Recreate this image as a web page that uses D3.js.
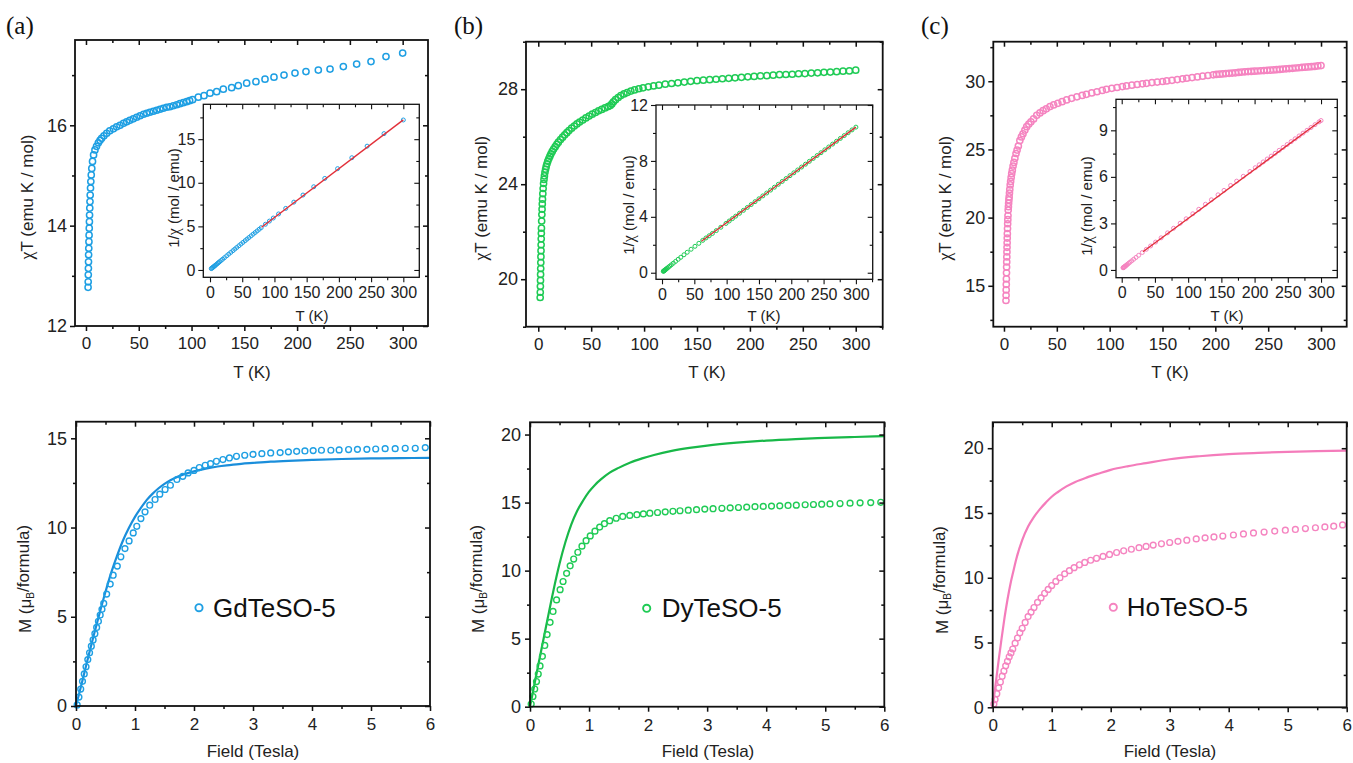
<!DOCTYPE html>
<html>
<head>
<meta charset="utf-8">
<script src="https://cdn.jsdelivr.net/npm/d3@7"></script>
<style>
  html, body { margin: 0; padding: 0; background: #fff; }
  svg { display: block; font-family: "Liberation Sans", Arial, sans-serif; }
</style>
</head>
<body>
<svg id="fig" width="1353" height="763"></svg>
<script>
// ---------- chi*T vs T (emu K / mol) ----------
const chiT_Gd = [[2.0,12.77],[2.1,12.88],[2.2,13.02],[2.3,13.15],[2.4,13.28],[2.5,13.42],[2.65,13.55],[2.8,13.68],[2.95,13.81],[3.1,13.95],[3.25,14.08],[3.4,14.21],[3.6,14.35],[3.8,14.48],[4.0,14.61],[4.3,14.75],[4.6,14.88],[5.0,15.01],[5.5,15.14],[6.2,15.28],[7.2,15.41],[8.5,15.51],[10,15.58],[11.7,15.65],[13.3,15.70],[14.8,15.74],[17,15.79],[19.6,15.84],[22.5,15.89],[25.9,15.93],[29,15.97],[32.2,16.0],[35.5,16.04],[38.5,16.07],[41.5,16.1],[44.8,16.13],[48,16.16],[51.2,16.19],[54.5,16.22],[57.5,16.24],[60.5,16.26],[63.8,16.28],[67,16.3],[70.1,16.32],[73.2,16.34],[76.4,16.36],[79.5,16.37],[82.7,16.39],[86,16.41],[89,16.43],[92.2,16.45],[95.4,16.47],[98.2,16.49],[101,16.51],[106.4,16.56],[111.8,16.59],[117.5,16.64],[123.8,16.67],[130.1,16.72],[138,16.75],[144.3,16.79],[152.2,16.84],[161,16.87],[169.6,16.92],[178.1,16.96],[187.6,17.0],[198,17.04],[208.4,17.07],[220.1,17.1],[231.2,17.12],[243.8,17.17],[256.4,17.22],[270,17.27],[284.2,17.37],[300,17.44]];

const chiT_Dy = [[1.8,19.23],[1.9,19.45],[2.0,19.7],[2.1,19.95],[2.2,20.2],[2.3,20.45],[2.4,20.7],[2.5,20.95],[2.6,21.2],[2.7,21.45],[2.8,21.7],[2.9,21.93],[3.0,22.15],[3.2,22.45],[3.4,22.72],[3.6,22.95],[3.8,23.17],[4.0,23.37],[4.3,23.6],[4.6,23.82],[5.0,24.03],[5.4,24.2],[5.8,24.35],[6.3,24.5],[6.9,24.63],[7.5,24.75],[8.2,24.86],[9.0,24.97],[10,25.08],[11,25.18],[12,25.28],[13.2,25.38],[14.5,25.48],[16,25.58],[17.5,25.68],[19,25.77],[21,25.88],[23,25.98],[25,26.08],[27,26.17],[29,26.26],[31.5,26.36],[34,26.45],[36.5,26.54],[39,26.62],[42,26.7],[45,26.79],[48,26.87],[51,26.95],[54,27.02],[57,27.09],[60,27.15],[63,27.21],[66,27.27],[68,27.31],[69.5,27.38],[71,27.47],[73,27.56],[75.5,27.65],[78,27.73],[81,27.8],[84,27.86],[87.5,27.92],[91,27.97],[95,28.02],[99,28.06],[104,28.1],[109,28.14],[114,28.17],[120,28.21],[126,28.24],[132,28.27],[138,28.3],[144,28.33],[150,28.36],[156,28.38],[162,28.4],[168,28.42],[174,28.44],[180,28.46],[186,28.48],[192,28.5],[198,28.52],[204,28.54],[210,28.56],[216,28.57],[222,28.59],[228,28.61],[234,28.62],[240,28.63],[246,28.65],[252,28.66],[258,28.68],[264,28.69],[270,28.71],[276,28.72],[282,28.74],[288,28.76],[294,28.77],[300,28.8]];

const chiT_Ho = [[1.9,13.92],[2.0,14.3],[2.1,14.7],[2.2,15.1],[2.3,15.5],[2.4,15.95],[2.5,16.37],[2.6,16.75],[2.7,17.12],[2.8,17.48],[2.9,17.82],[3.0,18.15],[3.1,18.5],[3.2,18.82],[3.35,19.2],[3.5,19.55],[3.65,19.85],[3.8,20.15],[4.0,20.55],[4.2,20.8],[4.4,21.05],[4.65,21.3],[4.9,21.52],[5.2,21.8],[5.5,22.07],[5.9,22.4],[6.3,22.65],[6.8,22.95],[7.3,23.22],[7.9,23.48],[8.6,23.78],[9.4,24.05],[10.3,24.35],[11.4,24.7],[12.4,24.95],[13.6,25.25],[15,25.65],[16.5,25.92],[18,26.15],[19.8,26.42],[21.5,26.67],[23.5,26.86],[25.5,27.03],[28,27.24],[31,27.5],[34,27.68],[37,27.84],[40,27.98],[43.5,28.14],[47,28.26],[51,28.38],[55,28.5],[59.3,28.63],[64,28.75],[69,28.86],[74,28.96],[78,29.04],[83,29.14],[88,29.23],[93,29.33],[97,29.41],[102,29.48],[107,29.54],[112,29.61],[116,29.66],[121,29.71],[126,29.76],[131,29.81],[135,29.85],[140,29.9],[145,29.94],[150,29.98],[154,30.02],[159,30.07],[164,30.12],[169,30.18],[173,30.22],[178,30.27],[183,30.32],[188,30.37],[193,30.42],[198,30.47],[201,30.5],[204,30.52],[207,30.54],[210,30.56],[213,30.58],[216,30.6],[219,30.62],[222,30.65],[225,30.67],[228,30.69],[231,30.71],[234,30.72],[237,30.74],[240,30.75],[243,30.77],[246,30.78],[249,30.8],[252,30.81],[255,30.83],[258,30.85],[261,30.87],[264,30.89],[267,30.91],[270,30.93],[273,30.95],[276,30.97],[279,30.99],[282,31.01],[285,31.03],[288,31.05],[291,31.07],[294,31.09],[297,31.12],[300,31.15]];

// ---------- 1/chi vs T (mol / emu) and Curie-Weiss fit segments ----------
const invChi_Gd = [[2,0.157],[3,0.217],[4,0.274],[5,0.333],[6.2,0.406],[7.2,0.467],[8.5,0.548],[10,0.642],[11.7,0.748],[13.3,0.847],[14.8,0.94],[17,1.077],[19.6,1.237],[22.5,1.416],[25.9,1.626],[29,1.816],[32.2,2.013],[35.5,2.213],[38.5,2.396],[41.5,2.578],[44.8,2.777],[48,2.97],[51.2,3.162],[54.5,3.36],[57.5,3.541],[60.5,3.721],[63.8,3.919],[67,4.11],[70.1,4.295],[73.2,4.48],[76.4,4.67],[79.5,4.856],[86,5.241],[92.2,5.605],[98.2,5.955],[106.4,6.425],[117.5,7.061],[130.1,7.781],[144.3,8.594],[161,9.544],[178.1,10.501],[198,11.62],[220.1,12.871],[243.8,14.199],[270,15.634],[300,17.202]];
const cwFit_Gd = [[80,4.9],[300,17.22]];

const invChi_Dy = [[2.0,0.102],[2.5,0.119],[3.0,0.135],[3.6,0.157],[4.3,0.182],[5.0,0.208],[5.8,0.238],[6.9,0.28],[8.2,0.33],[10,0.399],[12,0.475],[14.5,0.569],[17.5,0.681],[21,0.811],[25,0.959],[29,1.104],[34,1.285],[39,1.465],[45,1.68],[51,1.892],[57,2.104],[63,2.315],[68,2.488],[73,2.645],[78,2.811],[84,3.014],[91,3.253],[99,3.528],[104,3.701],[109,3.873],[114,4.047],[120,4.254],[126,4.462],[132,4.669],[138,4.876],[144,5.083],[150,5.289],[156,5.497],[162,5.704],[168,5.911],[174,6.118],[180,6.325],[186,6.531],[192,6.737],[198,6.943],[204,7.148],[210,7.353],[216,7.56],[222,7.765],[228,7.969],[234,8.176],[240,8.383],[246,8.586],[252,8.793],[258,8.996],[264,9.202],[270,9.404],[276,9.61],[282,9.812],[288,10.014],[294,10.219],[300,10.417]];
const cwFit_Dy = [[61,2.25],[300,10.42]];

const invChi_Ho = [[2.0,0.14],[2.5,0.153],[3.0,0.165],[3.5,0.179],[4.0,0.195],[4.65,0.218],[5.5,0.249],[6.3,0.278],[7.3,0.314],[8.6,0.362],[10.3,0.423],[12.4,0.497],[15,0.585],[18,0.688],[21.5,0.806],[25.5,0.943],[31,1.127],[37,1.329],[43.5,1.546],[51,1.797],[59.3,2.071],[69,2.391],[78,2.686],[88,3.011],[97,3.298],[107,3.622],[116,3.911],[126,4.234],[135,4.523],[145,4.843],[154,5.13],[164,5.445],[173,5.725],[183,6.036],[193,6.345],[201,6.59],[207,6.778],[213,6.965],[219,7.152],[225,7.336],[231,7.522],[237,7.71],[243,7.897],[249,8.084],[255,8.271],[261,8.455],[267,8.638],[273,8.821],[279,9.003],[285,9.185],[291,9.366],[297,9.544],[300,9.631]];
const cwFit_Ho = [[32,1.17],[300,9.63]];

// ---------- M vs H (muB / formula) with calculated curves ----------
const mag_Gd = [[0.02,0.06],[0.05,0.5],[0.08,0.95],[0.11,1.38],[0.14,1.8],[0.17,2.2],[0.2,2.6],[0.23,2.98],[0.26,3.35],[0.29,3.7],[0.32,4.05],[0.35,4.4],[0.38,4.75],[0.41,5.1],[0.44,5.42],[0.47,5.75],[0.52,6.27],[0.58,6.83],[0.63,7.33],[0.7,7.84],[0.76,8.36],[0.83,8.82],[0.9,9.25],[0.97,9.7],[1.03,10.07],[1.1,10.5],[1.17,10.88],[1.25,11.25],[1.34,11.57],[1.42,11.87],[1.51,12.13],[1.6,12.37],[1.71,12.69],[1.81,12.87],[1.9,13.06],[2.0,13.2],[2.09,13.36],[2.19,13.49],[2.28,13.58],[2.38,13.71],[2.49,13.81],[2.6,13.9],[2.72,13.99],[2.86,14.05],[3.0,14.1],[3.15,14.14],[3.3,14.18],[3.46,14.2],[3.6,14.24],[3.74,14.27],[3.88,14.29],[4.02,14.31],[4.16,14.33],[4.32,14.33],[4.46,14.35],[4.62,14.37],[4.77,14.38],[4.93,14.38],[5.08,14.4],[5.24,14.42],[5.41,14.42],[5.58,14.44],[5.75,14.44],[5.92,14.48]];
const calc_Gd = [[0,0],[0.1,1.3],[0.2,2.65],[0.3,3.95],[0.4,5.2],[0.5,6.4],[0.6,7.5],[0.7,8.45],[0.8,9.3],[0.9,10.0],[1.0,10.6],[1.1,11.1],[1.2,11.55],[1.3,11.9],[1.4,12.2],[1.5,12.45],[1.6,12.65],[1.8,12.95],[2.0,13.15],[2.2,13.3],[2.4,13.42],[2.6,13.5],[2.8,13.57],[3.0,13.62],[3.3,13.69],[3.6,13.74],[4.0,13.79],[4.5,13.84],[5.0,13.87],[5.5,13.89],[6.0,13.9]];

const mag_Dy = [[0.02,0.2],[0.05,0.75],[0.08,1.3],[0.11,1.85],[0.14,2.4],[0.17,3.0],[0.21,3.7],[0.25,4.5],[0.29,5.3],[0.34,6.2],[0.39,7.0],[0.45,7.85],[0.51,8.6],[0.56,9.2],[0.62,9.8],[0.68,10.35],[0.74,10.85],[0.81,11.35],[0.88,11.8],[0.95,12.2],[1.02,12.55],[1.1,12.9],[1.18,13.2],[1.26,13.45],[1.35,13.67],[1.46,13.85],[1.57,13.98],[1.69,14.06],[1.81,14.11],[1.92,14.17],[2.03,14.22],[2.16,14.27],[2.29,14.32],[2.42,14.36],[2.54,14.4],[2.68,14.44],[2.82,14.48],[2.96,14.52],[3.1,14.55],[3.25,14.58],[3.39,14.61],[3.53,14.64],[3.67,14.67],[3.81,14.7],[3.95,14.72],[4.09,14.74],[4.23,14.76],[4.37,14.79],[4.51,14.81],[4.66,14.84],[4.8,14.86],[4.94,14.88],[5.08,14.9],[5.25,14.93],[5.42,14.96],[5.59,14.98],[5.77,15.0],[5.94,15.02]];
const calc_Dy = [[0,0],[0.1,2.2],[0.2,4.35],[0.3,6.5],[0.4,8.6],[0.5,10.5],[0.6,12.1],[0.7,13.4],[0.8,14.4],[0.9,15.15],[1.0,15.8],[1.1,16.3],[1.2,16.7],[1.35,17.2],[1.5,17.55],[1.7,17.95],[1.9,18.25],[2.1,18.5],[2.4,18.8],[2.7,19.02],[3.0,19.19],[3.5,19.4],[4.0,19.56],[4.5,19.67],[5.0,19.75],[5.5,19.82],[6.0,19.88]];

const mag_Ho = [[0.02,0.25],[0.04,0.6],[0.07,1.05],[0.1,1.5],[0.13,1.95],[0.16,2.4],[0.19,2.8],[0.22,3.2],[0.25,3.55],[0.28,3.9],[0.31,4.2],[0.34,4.5],[0.38,4.95],[0.42,5.35],[0.46,5.75],[0.5,6.1],[0.55,6.55],[0.6,7.0],[0.65,7.35],[0.7,7.7],[0.76,8.1],[0.82,8.45],[0.88,8.8],[0.94,9.1],[1.0,9.4],[1.07,9.72],[1.14,10.0],[1.22,10.3],[1.3,10.55],[1.38,10.78],[1.47,11.0],[1.56,11.18],[1.66,11.35],[1.76,11.5],[1.87,11.65],[1.98,11.8],[2.1,11.95],[2.22,12.08],[2.35,12.2],[2.48,12.32],[2.6,12.42],[2.72,12.52],[2.86,12.62],[3.0,12.72],[3.14,12.81],[3.29,12.9],[3.45,13.0],[3.6,13.08],[3.75,13.15],[3.9,13.22],[4.08,13.3],[4.25,13.38],[4.42,13.46],[4.6,13.53],[4.78,13.6],[4.96,13.67],[5.13,13.73],[5.3,13.8],[5.47,13.86],[5.63,13.92],[5.78,13.98],[5.93,14.08]];
const calc_Ho = [[0,0],[0.05,1.8],[0.1,3.6],[0.15,5.3],[0.2,6.9],[0.25,8.3],[0.3,9.5],[0.35,10.5],[0.4,11.45],[0.5,12.9],[0.6,13.95],[0.7,14.7],[0.8,15.3],[0.9,15.8],[1.0,16.25],[1.1,16.6],[1.25,17.05],[1.4,17.4],[1.6,17.75],[1.8,18.05],[2.0,18.33],[2.3,18.62],[2.6,18.85],[3.0,19.15],[3.5,19.38],[4.0,19.54],[4.5,19.64],[5.0,19.72],[5.5,19.78],[6.0,19.82]];

// ---------- tick values ----------
const tTicksMajor = [0, 50, 100, 150, 200, 250, 300];
const tTicksMinor = [25, 75, 125, 175, 225, 275, 325];
const hTicksMajor = [0, 1, 2, 3, 4, 5, 6];
const hTicksMinor = [0.5, 1.5, 2.5, 3.5, 4.5, 5.5];

const compoundNames = ["GdTeSO-5", "DyTeSO-5", "HoTeSO-5"];
const panelTags = ["(a)", "(b)", "(c)"];

const blue = "#1e9fe3", green = "#1fcb55", pink = "#f584c0", red = "#e2303a";
const blueLine = "#1a8edb", greenLine = "#18b848", pinkLine = "#f47cbb";

const svg = d3.select("#fig");
const FONT = '"Liberation Sans", Arial, sans-serif';

// A framed plot: ticks on all four sides, labels on bottom and left.
function makePanel(o) {
  const root = svg.append("g");
  const [x0, y0, x1, y1] = o.box;
  const x = d3.scaleLinear().domain(o.xDom).range([x0, x1]);
  const y = d3.scaleLinear().domain(o.yDom).range([y1, y0]);
  if (o.fill) {
    root.append("rect").attr("x", x0).attr("y", y0)
      .attr("width", x1 - x0).attr("height", y1 - y0).attr("fill", "#fff");
  }
  const data = root.append("g");
  const axes = root.append("g");
  const lw = o.lw;

  function add(axisFn, scale, vals, size, pad, tr, fmt, fs) {
    const [lo, hi] = d3.extent(scale.domain());
    const a = axisFn(scale).tickValues(vals.filter(v => v >= lo && v <= hi))
      .tickSize(size).tickSizeOuter(0).tickPadding(pad)
      .tickFormat(fmt ? fmt : () => "");
    const gg = axes.append("g").attr("transform", tr).call(a);
    gg.select(".domain").remove();
    gg.attr("font-size", null).attr("font-family", null);
    gg.selectAll("line").attr("stroke", "#111").attr("stroke-width", lw * 0.85);
    gg.selectAll("text").attr("font-size", fs).attr("fill", "#222").attr("font-family", FONT);
  }
  const fmt = d3.format("d");
  add(d3.axisBottom, x, o.xMajor, 5, o.padX, `translate(0,${y1})`, fmt, o.fsX);
  add(d3.axisBottom, x, o.xMinor, 3, 0, `translate(0,${y1})`, null);
  add(d3.axisTop, x, o.xMajor, -5, 0, `translate(0,${y0})`, null);
  add(d3.axisTop, x, o.xMinor, -3, 0, `translate(0,${y0})`, null);
  add(d3.axisLeft, y, o.yMajor, 5, o.padY, `translate(${x0},0)`, fmt, o.fsY);
  add(d3.axisLeft, y, o.yMinor, 3, 0, `translate(${x0},0)`, null);
  add(d3.axisRight, y, o.yMajor, -5, 0, `translate(${x1},0)`, null);
  add(d3.axisRight, y, o.yMinor, -3, 0, `translate(${x1},0)`, null);
  axes.append("rect").attr("x", x0).attr("y", y0)
    .attr("width", x1 - x0).attr("height", y1 - y0)
    .attr("fill", "none").attr("stroke", "#111").attr("stroke-width", lw);
  return { x, y, data, axes };
}

function circles(p, pts, color, r, sw) {
  p.data.selectAll(null).data(pts).enter().append("circle")
    .attr("cx", d => p.x(d[0])).attr("cy", d => p.y(d[1]))
    .attr("r", r).attr("fill", "none").attr("stroke", color).attr("stroke-width", sw);
}
function curve(p, pts, color, w) {
  const line = d3.line().x(d => p.x(d[0])).y(d => p.y(d[1])).curve(d3.curveMonotoneX);
  p.data.append("path").attr("d", line(pts)).attr("fill", "none")
    .attr("stroke", color).attr("stroke-width", w).attr("stroke-linejoin", "round");
}
function label(x, y, str, size, rot) {
  const t = svg.append("text").attr("x", x).attr("y", y)
    .attr("font-size", size).attr("font-family", FONT).attr("fill", "#222")
    .attr("text-anchor", "middle");
  if (rot) t.attr("transform", `rotate(-90,${x},${y})`);
  if (str) t.text(str);
  return t;
}
function chiLabel(x, y, size, before, after) {
  const t = label(x, y, "", size, true).attr("dy", "0.35em");
  if (before) t.append("tspan").text(before);
  t.append("tspan").attr("font-family", '"Liberation Serif", serif').attr("font-size", size * 1.05).text("\u03c7");
  t.append("tspan").text(after);
}

// ---------- layout for the three columns ----------
const cols = [
  {
    tag: [6, 34],
    main: { box: [75, 40, 428, 326], yDom: [12, 17.7], xDom: [-10.4, 324], yMajor: [12, 14, 16], yMinor: [13, 15, 17] },
    mainData: chiT_Gd, yTitleX: 27, xTitleX: 252,
    inset: { box: [203.3, 104.3, 419.3, 277.3], yDom: [-0.84, 19], xDom: [-10.4, 324.8], yMajor: [0, 5, 10, 15], yMinor: [2.5, 7.5, 12.5, 17.5] },
    insetData: invChi_Gd, fit: cwFit_Gd, insetYTitle: [174, 198], insetXTitle: 312,
    mag: { box: [76, 421.7, 430, 706], yDom: [0, 15.93], yMajor: [0, 5, 10, 15], yMinor: [2.5, 7.5, 12.5] },
    magData: mag_Gd, calc: calc_Gd, magYTitle: [25, 579], magXTitle: 253,
    legend: [199, 607.7, 213],
    color: blue, lineColor: blueLine
  },
  {
    tag: [454, 34],
    main: { box: [526, 41.7, 882.7, 326.7], yDom: [18, 30], xDom: [-11.6, 325.5], yMajor: [20, 24, 28], yMinor: [18, 22, 26, 30] },
    mainData: chiT_Dy, yTitleX: 481.5, xTitleX: 707,
    inset: { box: [656, 105, 872.7, 279.3], yDom: [-0.47, 12], xDom: [-9.3, 326], yMajor: [0, 4, 8, 12], yMinor: [2, 6, 10] },
    insetData: invChi_Dy, fit: cwFit_Dy, insetYTitle: [629, 205], insetXTitle: 764,
    mag: { box: [530, 422.3, 884.3, 706.7], yDom: [0, 20.9], yMajor: [0, 5, 10, 15, 20], yMinor: [2.5, 7.5, 12.5, 17.5] },
    magData: mag_Dy, calc: calc_Dy, magYTitle: [478, 579], magXTitle: 708,
    legend: [646.7, 608.3, 661.7],
    color: green, lineColor: greenLine
  },
  {
    tag: [921, 34],
    main: { box: [993.3, 41.7, 1346.7, 326.7], yDom: [12, 32.9], xDom: [-10.1, 324.3], yMajor: [15, 20, 25, 30], yMinor: [12.5, 17.5, 22.5, 27.5, 32.5] },
    mainData: chiT_Ho, yTitleX: 945.5, xTitleX: 1170,
    inset: { box: [1116, 99.3, 1337.3, 277.7], yDom: [-0.5, 11], xDom: [-8.6, 324.5], yMajor: [0, 3, 6, 9], yMinor: [1.5, 4.5, 7.5, 10.5] },
    insetData: invChi_Ho, fit: cwFit_Ho, insetYTitle: [1087, 206], insetXTitle: 1227,
    mag: { box: [992.7, 422.3, 1346.7, 707.3], yDom: [0, 22], yMajor: [0, 5, 10, 15, 20], yMinor: [2.5, 7.5, 12.5, 17.5] },
    magData: mag_Ho, calc: calc_Ho, magYTitle: [941.7, 580], magXTitle: 1170,
    legend: [1113.3, 607.3, 1126.7],
    color: pink, lineColor: pinkLine
  }
];

cols.forEach((c, i) => {
  // panel tag
  svg.append("text").attr("x", c.tag[0]).attr("y", c.tag[1])
    .attr("font-family", '"Liberation Serif", "Times New Roman", serif')
    .attr("font-size", 25).attr("fill", "#111").text(panelTags[i]);

  // chi*T vs T
  const m = makePanel(Object.assign({ xMajor: tTicksMajor, xMinor: tTicksMinor, lw: 1.8, fsX: 17, fsY: 18, padX: 6, padY: 3 }, c.main));
  circles(m, c.mainData, c.color, 3.1, 1.5);
  chiLabel(c.yTitleX, (c.main.box[1] + c.main.box[3]) / 2 + 14, 17, null, "T (emu K / mol)");
  label(c.xTitleX, 378, "T (K)", 17);

  // 1/chi inset
  const ins = makePanel(Object.assign({ xMajor: tTicksMajor, xMinor: tTicksMinor, lw: 1.3, fsX: 16, fsY: 16, padX: 4, padY: 3, fill: true }, c.inset));
  circles(ins, c.insetData, c.color, 2, 1);
  curve(ins, c.fit, red, 1.4);
  chiLabel(c.insetYTitle[0], c.insetYTitle[1], 15, "1/", " (mol / emu)");
  label(c.insetXTitle, 321, "T (K)", 15);

  // M vs H
  const mg = makePanel(Object.assign({ xDom: [0, 6], xMajor: hTicksMajor, xMinor: hTicksMinor, lw: 1.8, fsX: 17, fsY: 18, padX: 7, padY: 4 }, c.mag));
  curve(mg, c.calc, c.lineColor, 2.2);
  circles(mg, c.magData, c.color, 2.9, 1.4);
  const yt = label(c.magYTitle[0], c.magYTitle[1], "", 17, true).attr("dy", "0.35em");
  yt.append("tspan").text("M (\u03bc");
  yt.append("tspan").attr("font-size", 10).attr("dy", "0.35em").text("B");
  yt.append("tspan").attr("dy", "-0.35em").text("/formula)");
  label(c.magXTitle, 757, "Field (Tesla)", 17);

  // legend
  svg.append("circle").attr("cx", c.legend[0]).attr("cy", c.legend[1]).attr("r", 3.6)
    .attr("fill", "none").attr("stroke", c.color).attr("stroke-width", 1.9);
  svg.append("text").attr("x", c.legend[2]).attr("y", c.legend[1] + 9)
    .attr("font-family", FONT).attr("font-size", 26).attr("fill", "#111").text(compoundNames[i]);
});
</script>
</body>
</html>
